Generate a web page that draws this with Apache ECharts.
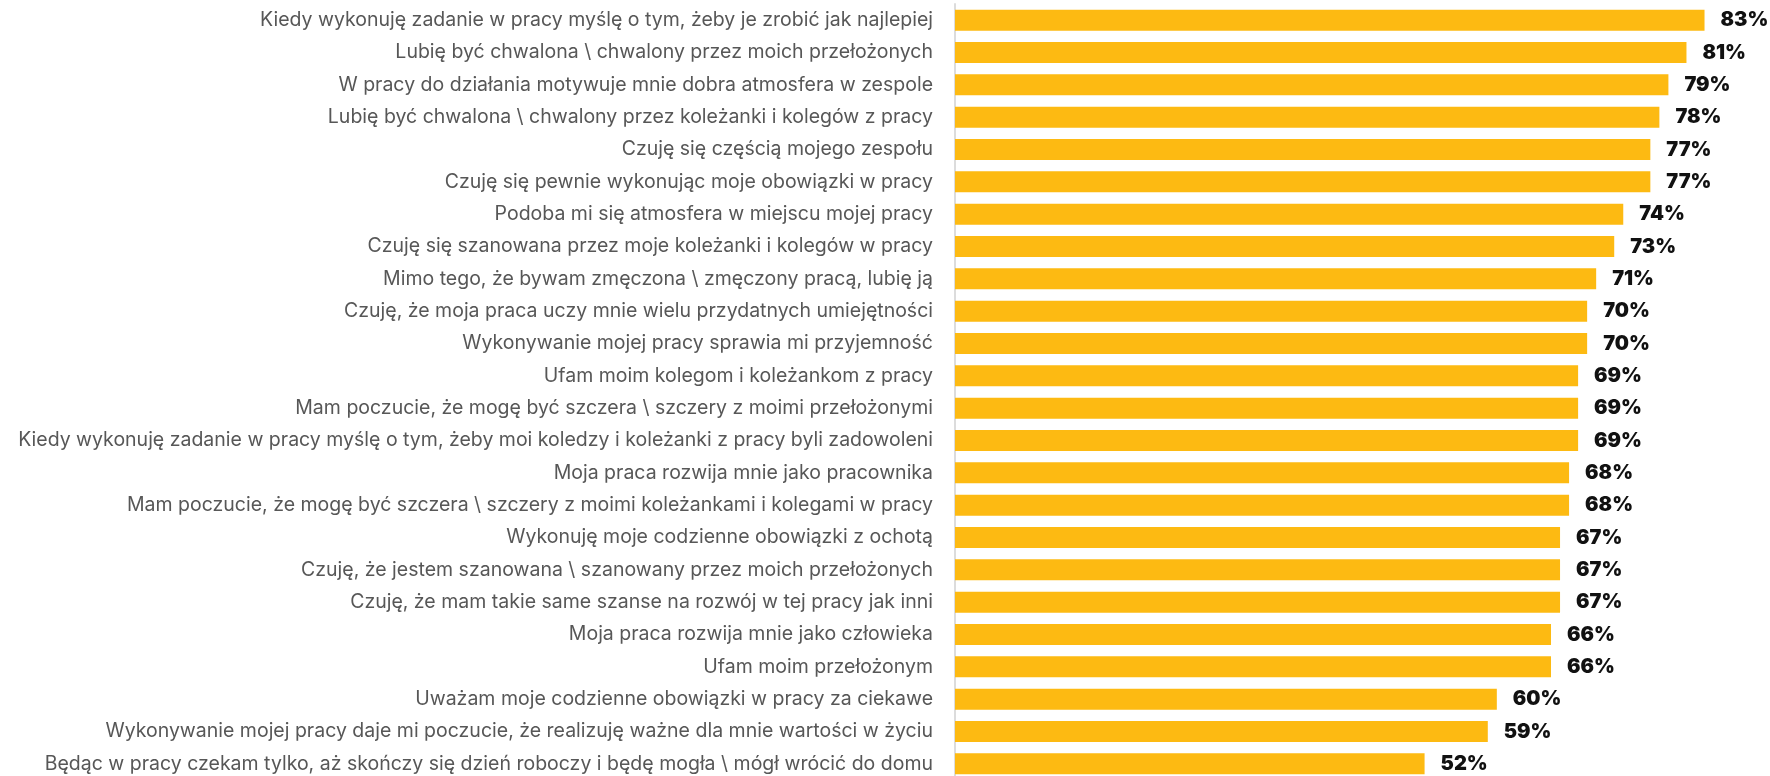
<!DOCTYPE html>
<html>
<head>
<meta charset="utf-8">
<script src="https://cdn.jsdelivr.net/npm/echarts@6/dist/echarts.min.js"></script>
<style>
  html, body { margin: 0; padding: 0; background: #fff; }
  #chart { width: 1770px; height: 776px; }
</style>
</head>
<body>
<div id="chart"></div>
<script>
// statements, top to bottom
var categories = [
  "Kiedy wykonuję zadanie w pracy myślę o tym, żeby je zrobić jak najlepiej",
  "Lubię być chwalona \\ chwalony przez moich przełożonych",
  "W pracy do działania motywuje mnie dobra atmosfera w zespole",
  "Lubię być chwalona \\ chwalony przez koleżanki i kolegów z pracy",
  "Czuję się częścią mojego zespołu",
  "Czuję się pewnie wykonując moje obowiązki w pracy",
  "Podoba mi się atmosfera w miejscu mojej pracy",
  "Czuję się szanowana przez moje koleżanki i kolegów w pracy",
  "Mimo tego, że bywam zmęczona \\ zmęczony pracą, lubię ją",
  "Czuję, że moja praca uczy mnie wielu przydatnych umiejętności",
  "Wykonywanie mojej pracy sprawia mi przyjemność",
  "Ufam moim kolegom i koleżankom z pracy",
  "Mam poczucie, że mogę być szczera \\ szczery z moimi przełożonymi",
  "Kiedy wykonuję zadanie w pracy myślę o tym, żeby moi koledzy i koleżanki z pracy byli zadowoleni",
  "Moja praca rozwija mnie jako pracownika",
  "Mam poczucie, że mogę być szczera \\ szczery z moimi koleżankami i kolegami w pracy",
  "Wykonuję moje codzienne obowiązki z ochotą",
  "Czuję, że jestem szanowana \\ szanowany przez moich przełożonych",
  "Czuję, że mam takie same szanse na rozwój w tej pracy jak inni",
  "Moja praca rozwija mnie jako człowieka",
  "Ufam moim przełożonym",
  "Uważam moje codzienne obowiązki w pracy za ciekawe",
  "Wykonywanie mojej pracy daje mi poczucie, że realizuję ważne dla mnie wartości w życiu",
  "Będąc w pracy czekam tylko, aż skończy się dzień roboczy i będę mogła \\ mógł wrócić do domu"
];
var values = [83, 81, 79, 78, 77, 77, 74, 73, 71, 70, 70, 69, 69, 69, 68, 68, 67, 67, 67, 66, 66, 60, 59, 52];

var chart = echarts.init(document.getElementById("chart"));
var option = {
  animation: false,
  grid: {
    left: 955,
    top: 4,
    right: 0,
    height: 776,
    outerBoundsMode: "none"
  },
  xAxis: {
    type: "value",
    min: 0,
    max: 90.25,
    show: false
  },
  yAxis: {
    type: "category",
    inverse: true,
    data: categories,
    axisLine: { show: true, lineStyle: { color: "#dcdcdc", width: 2 } },
    axisTick: { show: false },
    axisLabel: {
      margin: 22,
      color: "#575757",
      fontFamily: "Inter",
      fontSize: 19.5
    }
  },
  series: [
    {
      type: "bar",
      data: values,
      barCategoryGap: "35%",
      itemStyle: { color: "#FDBA12" },
      label: {
        show: true,
        position: "right",
        distance: 16,
        formatter: "{c}%",
        color: "#111",
        fontFamily: "Inter",
        fontWeight: 900,
        fontSize: 20
      }
    }
  ]
};
option && chart.setOption(option);
</script>
</body>
</html>
